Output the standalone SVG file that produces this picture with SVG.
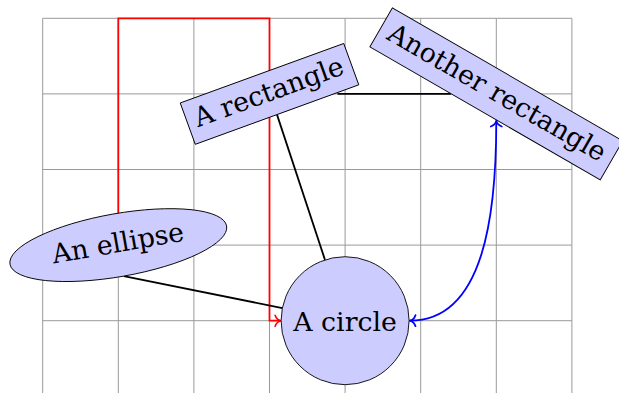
<svg xmlns="http://www.w3.org/2000/svg" width="619" height="393" viewBox="0 0 619 393">
  <style>
    .grid line { stroke: #999999; stroke-width: 1; }
    .node { fill: #ccccff; stroke: #000; stroke-width: 0.9; }
    .label { font-family: "DejaVu Serif", "Liberation Serif", serif; font-size: 26.8px; fill: #000; text-anchor: middle; }
    .edge { fill: none; stroke-width: 1.8; }
  </style>
  <defs>
    <marker id="arrRed" markerUnits="userSpaceOnUse" markerWidth="14" markerHeight="14" viewBox="-7 -7 14 14" refX="0" refY="0" orient="auto-start-reverse" overflow="visible">
      <path d="M-5.5,-5.5 C-4.5,-2.5 -2,-0.6 0,0 C-2,0.6 -4.5,2.5 -5.5,5.5" fill="none" stroke="#ff0000" stroke-width="1.6" stroke-linecap="round"/>
    </marker>
    <marker id="arrBlue" markerUnits="userSpaceOnUse" markerWidth="14" markerHeight="14" viewBox="-7 -7 14 14" refX="0" refY="0" orient="auto-start-reverse" overflow="visible">
      <path d="M-5.5,-5.5 C-4.5,-2.5 -2,-0.6 0,0 C-2,0.6 -4.5,2.5 -5.5,5.5" fill="none" stroke="#0000ff" stroke-width="1.8" stroke-linecap="round"/>
    </marker>
  </defs>
  <g class="grid" id="grid">
    <line x1="42.7" y1="18.3" x2="42.7" y2="393"/>
    <line x1="118.3" y1="18.3" x2="118.3" y2="393"/>
    <line x1="193.9" y1="18.3" x2="193.9" y2="393"/>
    <line x1="269.5" y1="18.3" x2="269.5" y2="393"/>
    <line x1="345.1" y1="18.3" x2="345.1" y2="393"/>
    <line x1="420.7" y1="18.3" x2="420.7" y2="393"/>
    <line x1="496.3" y1="18.3" x2="496.3" y2="393"/>
    <line x1="571.9" y1="18.3" x2="571.9" y2="393"/>
    <line x1="42.7" y1="18.3" x2="571.9" y2="18.3"/>
    <line x1="42.7" y1="93.9" x2="571.9" y2="93.9"/>
    <line x1="42.7" y1="169.5" x2="571.9" y2="169.5"/>
    <line x1="42.7" y1="245.1" x2="571.9" y2="245.1"/>
    <line x1="42.7" y1="320.7" x2="571.9" y2="320.7"/>
  </g>
  <g id="connectors">
    <path class="edge" stroke="#ff0000" stroke-width="1.6" d="M118.3,213.2 V18.3 H269.5 V320.7 H280.6" marker-end="url(#arrRed)"/>
    <path class="edge" stroke="#000" d="M337.5,93.9 H451"/>
    <path class="edge" stroke="#000" d="M277,114.6 L325,259.9"/>
    <path class="edge" stroke="#000" d="M123.8,276.1 L282.4,308.1"/>
    <path class="edge" stroke="#0000ff" d="M410,320.7 C485,320.7 496.3,211.5 496.3,121" marker-start="url(#arrBlue)" marker-end="url(#arrBlue)"/>
  </g>
  <g id="rectangle" transform="translate(269.5,93.9) rotate(-20)">
    <rect class="node" x="-87" y="-22" width="174" height="44"/>
    <text class="label" x="0" y="7">A rectangle</text>
  </g>
  <g id="another-rectangle" transform="translate(496.3,93.9) rotate(30)">
    <rect class="node" x="-133" y="-22.5" width="266" height="45"/>
    <text class="label" x="0" y="7.5">Another rectangle</text>
  </g>
  <g id="ellipse" transform="translate(118.3,245.1) rotate(-10)">
    <ellipse class="node" cx="0" cy="0" rx="110" ry="31.5"/>
    <text class="label" x="0" y="7">An ellipse</text>
  </g>
  <g id="circle">
    <circle class="node" cx="345.1" cy="320.7" r="64"/>
    <text class="label" x="345.1" y="331">A circle</text>
  </g>
</svg>
